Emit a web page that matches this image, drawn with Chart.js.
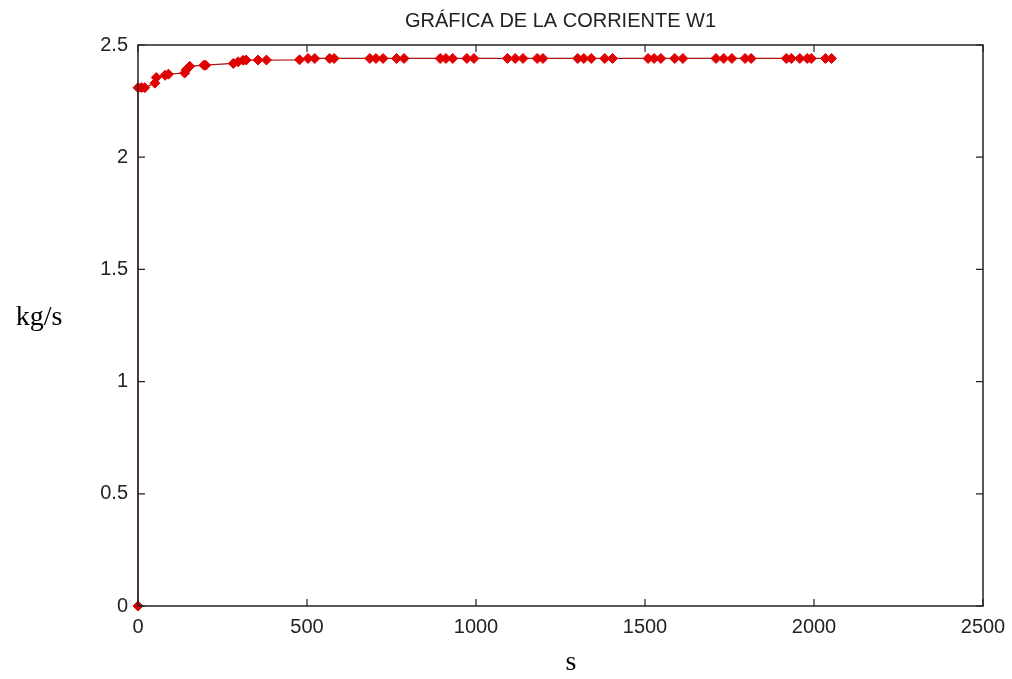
<!DOCTYPE html>
<html>
<head>
<meta charset="utf-8">
<script src="https://cdn.jsdelivr.net/npm/chart.js@4.4.0/dist/chart.umd.min.js"></script>
<style>
  html, body { margin: 0; padding: 0; background: #fff; overflow: hidden; }
  #wrap { width: 1012px; height: 679px; }
</style>
</head>
<body>
<div id="wrap"><canvas id="grafico"></canvas></div>
<script>
// datos
var tiempos = [0, 0, 10, 20, 50, 54, 80, 90, 138, 143, 153, 195, 200, 282, 296, 311, 320, 355, 380, 478,
    503, 523, 567, 580, 686, 704, 725, 765, 787, 894, 911, 931, 973, 994,
    1093, 1116, 1139, 1181, 1198, 1301, 1319, 1341, 1381, 1404, 1509, 1527, 1547, 1588, 1612,
    1710, 1733, 1757, 1796, 1814, 1918, 1933, 1958, 1980, 1992, 2034, 2052];
var corrienteW1 = [0, 2.31, 2.31, 2.31, 2.33, 2.355, 2.365, 2.37, 2.375, 2.39, 2.405, 2.41, 2.41, 2.418, 2.425, 2.432, 2.433, 2.433, 2.433, 2.434,
    2.44, 2.44, 2.44, 2.44, 2.44, 2.44, 2.44, 2.44, 2.44, 2.44, 2.44, 2.44, 2.44, 2.44,
    2.44, 2.44, 2.44, 2.44, 2.44, 2.44, 2.44, 2.44, 2.44, 2.44, 2.44, 2.44, 2.44, 2.44, 2.44,
    2.44, 2.44, 2.44, 2.44, 2.44, 2.44, 2.44, 2.44, 2.44, 2.44, 2.44, 2.44];
var ticksX = [0, 500, 1000, 1500, 2000, 2500];
var ticksY = [0, 0.5, 1, 1.5, 2, 2.5];
var titulo = 'GRÁFICA DE LA CORRIENTE W1';
var tituloX = 's';
var tituloY = 'kg/s';

var puntos = tiempos.map(function (t, i) { return { x: t, y: corrienteW1[i] }; });

// marco y marcas hacia adentro, estilo matlab
var marcoPlugin = {
    id: 'marco',
    afterDraw: function (chart) {
        var ctx = chart.ctx;
        var a = chart.chartArea;
        var sx = chart.scales.x, sy = chart.scales.y;
        ctx.save();
        ctx.strokeStyle = '#222';
        ctx.lineWidth = 1.5;
        ctx.strokeRect(a.left, a.top, a.right - a.left, a.bottom - a.top);
        ctx.lineWidth = 1.2;
        ctx.beginPath();
        ticksX.forEach(function (v) {
            var px = sx.getPixelForValue(v);
            ctx.moveTo(px, a.bottom); ctx.lineTo(px, a.bottom - 7);
            ctx.moveTo(px, a.top); ctx.lineTo(px, a.top + 7);
        });
        ticksY.forEach(function (v) {
            var py = sy.getPixelForValue(v);
            ctx.moveTo(a.left, py); ctx.lineTo(a.left + 7, py);
            ctx.moveTo(a.right, py); ctx.lineTo(a.right - 7, py);
        });
        ctx.stroke();

        ctx.fillStyle = '#222';
        ctx.textAlign = 'center';
        ctx.textBaseline = 'middle';
        ctx.font = '20px "Liberation Sans", Arial, sans-serif';
        ctx.fillText(titulo, (a.left + a.right) / 2, 21);
        ctx.fillStyle = '#000';
        ctx.font = '28px "Liberation Serif", "Times New Roman", serif';
        ctx.fillText(tituloY, 39, 318);
        ctx.fillText(tituloX, 571, 663);
        ctx.restore();
    }
};

var ctx = document.getElementById('grafico').getContext('2d');
var chart = new Chart(ctx, {
    type: 'line',
    data: {
        datasets: [{
            data: puntos,
            borderColor: 'rgb(170, 20, 20)',
            borderWidth: 1.2,
            backgroundColor: 'rgb(225, 0, 0)',
            pointBackgroundColor: 'rgb(225, 0, 0)',
            pointBorderColor: 'rgb(225, 0, 0)',
            pointStyle: 'rectRot',
            pointRadius: 5,
            pointBorderWidth: 1,
            tension: 0,
            clip: false
        }]
    },
    options: {
        responsive: true,
        maintainAspectRatio: false,
        animation: false,
        layout: { padding: { left: 0, right: 29, top: 45, bottom: 0 } },
        plugins: {
            legend: { display: false },
            title: { display: false },
            tooltip: { enabled: false }
        },
        scales: {
            x: {
                type: 'linear',
                min: 0,
                max: 2500,
                afterFit: function (s) { s.height = 73; s.paddingLeft = 0; s.paddingRight = 0; },
                afterBuildTicks: function (s) { s.ticks = ticksX.map(function (v) { return { value: v }; }); },
                grid: { display: false, drawTicks: false },
                border: { display: false },
                ticks: {
                    padding: 9,
                    maxRotation: 0,
                    color: '#222',
                    font: { family: '"Liberation Sans", Arial, sans-serif', size: 20 },
                    callback: function (v) { return String(v); }
                }
            },
            y: {
                type: 'linear',
                min: 0,
                max: 2.5,
                afterFit: function (s) { s.width = 138; s.paddingTop = 0; s.paddingBottom = 0; },
                afterBuildTicks: function (s) { s.ticks = ticksY.map(function (v) { return { value: v }; }); },
                grid: { display: false, drawTicks: false },
                border: { display: false },
                ticks: {
                    padding: 10,
                    color: '#222',
                    font: { family: '"Liberation Sans", Arial, sans-serif', size: 20 },
                    callback: function (v) { return String(v); }
                }
            }
        }
    },
    plugins: [marcoPlugin]
});
</script>
</body>
</html>
